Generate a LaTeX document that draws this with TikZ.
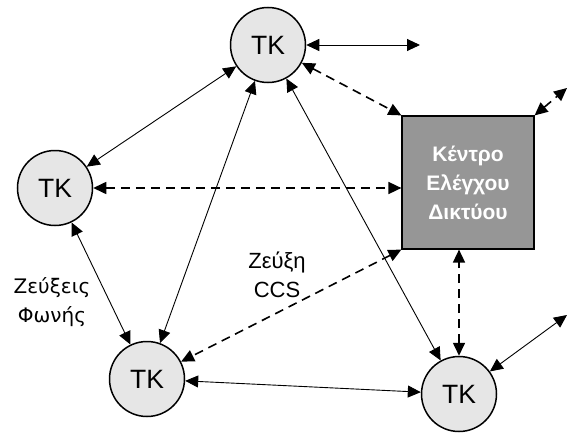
\documentclass[tikz,border=0pt]{standalone}
\usepackage{fontspec}
\setmainfont{Liberation Sans}
\newfontfamily\widesans{DejaVu Sans}
\usetikzlibrary{arrows.meta}
\definecolor{tkfill}{RGB}{230,230,230}
\definecolor{boxfill}{RGB}{150,150,150}
\begin{document}
\begin{tikzpicture}[x=1pt,y=-1pt,
  tk/.style={circle, draw, line width=1.5pt, fill=tkfill, minimum size=75pt, inner sep=0pt,
    font=\fontsize{26.5}{30}\selectfont},
  centre/.style={rectangle, draw, line width=1.2pt, fill=boxfill, minimum width=132pt,
    minimum height=133pt, text=white, align=center,
    font=\bfseries\fontsize{21}{29}\selectfont},
  voice/.style={line width=0.9pt, {Triangle[length=13pt,width=12pt]}-{Triangle[length=13pt,width=12pt]}},
  signal/.style={voice, line width=1.6pt, dash pattern=on 9pt off 6pt},
  lbl/.style={font=\fontsize{22}{29}\selectfont, align=center}
]
\useasboundingbox (0,0) rectangle (569,433);

% exchanges and the network control centre
\node[tk] (T) at (268,45) {TK};
\node[tk] (L) at (55,188) {TK};
\node[tk] (BL) at (147,379) {TK};
\node[tk] (BR) at (459,394) {TK};
\node[centre] (C) at (468,182.5) {Κέντρο\\Ελέγχου\\Δικτύου};

% free ends of outgoing links
\coordinate (Tout) at (420,45);
\coordinate (Cout) at (567,88);
\coordinate (BRout) at (567,315);

% voice trunks
\draw[voice] (T) -- (Tout);
\draw[voice] (T) -- (L);
\draw[voice] (T) -- (BL);
\draw[voice] (T) -- (BR);
\draw[voice] (L) -- (BL);
\draw[voice] (BL) -- (BR);
\draw[voice] (BR) -- (BRout);

% CCS signalling links
\draw[signal] (T) -- (C.north west);
\draw[signal] (C.north east) -- (Cout);
\draw[signal] (L) -- (L -| C.west);
\draw[signal] (C.south west) -- (BL);
\draw[signal] (BR) -- (BR |- C.south);

% labels
\node[lbl, font=\widesans\fontsize{20}{29}\selectfont] (vlabel) at (52,302) {Ζεύξεις\\Φωνής};
\node[lbl] (clabel) at (277,275) {Ζεύξη\\CCS};
\end{tikzpicture}
\end{document}
